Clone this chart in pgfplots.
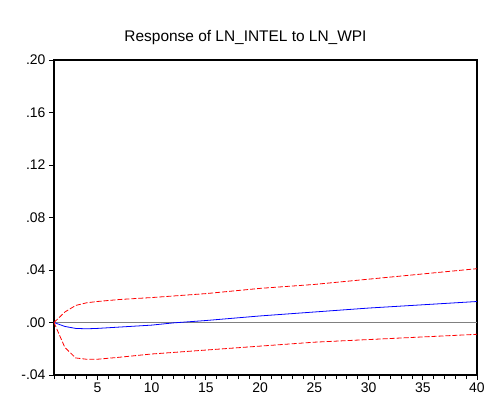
\documentclass[border=0pt]{standalone}
\usepackage{pgfplots}
\pgfplotsset{compat=1.18}
\usepackage{fontspec}
\setmainfont{Liberation Sans}
\begin{document}
\begin{tikzpicture}
\path[use as bounding box] (-54bp,-26bp) rectangle (435bp,375bp);
\begin{axis}[
  at={(0,0)}, anchor=south west,
  scale only axis, width=423bp, height=315bp,
  xmin=1, xmax=40, ymin=-0.04, ymax=0.20,
  xtick={5,10,...,40}, minor xtick={1,...,40},
  ytick={-0.04,0,0.04,0.08,0.12,0.16,0.20},
  yticklabels={-.04,.00,.04,.08,.12,.16,.20},
  tick align=outside, tick pos=left,
  major tick length=5bp, minor tick length=4bp,
  tick style={black, line width=0.8pt},
  ticklabel style={font=\fontsize{14}{16}\selectfont},
  xticklabel style={yshift=1bp},
  yticklabel style={xshift=0bp},
  /pgf/number format/assume math mode=true,
  axis line style={black, line width=1.2pt},
  title={Response of LN\_INTEL to LN\_WPI},
  title style={font=\fontsize{15.5}{18}\selectfont, yshift=6bp, xshift=-20bp},
]
\addplot[gray, line width=1.1pt, forget plot] coordinates {(1,0) (40,0)};
\addplot[blue, line width=0.8pt] coordinates {(1,0)(2,-0.003)(3,-0.0045)(4,-0.0048)(5,-0.0045)(7,-0.0035)(10,-0.002)(12,-0.0003)(15,0.0015)(20,0.005)(25,0.008)(30,0.011)(35,0.0135)(40,0.016)};
\addplot[red, dash pattern=on 5bp off 2bp, line width=0.8pt] coordinates {(1,0)(2,0.008)(3,0.013)(4,0.015)(5,0.016)(7,0.0175)(10,0.019)(15,0.022)(20,0.026)(25,0.029)(30,0.033)(35,0.037)(40,0.041)};
\addplot[red, dash pattern=on 5bp off 2bp, line width=0.8pt] coordinates {(1,0)(2,-0.019)(3,-0.027)(4,-0.028)(5,-0.028)(7,-0.0265)(10,-0.024)(15,-0.021)(20,-0.018)(25,-0.015)(30,-0.013)(35,-0.011)(40,-0.009)};
\end{axis}
\end{tikzpicture}
\end{document}
